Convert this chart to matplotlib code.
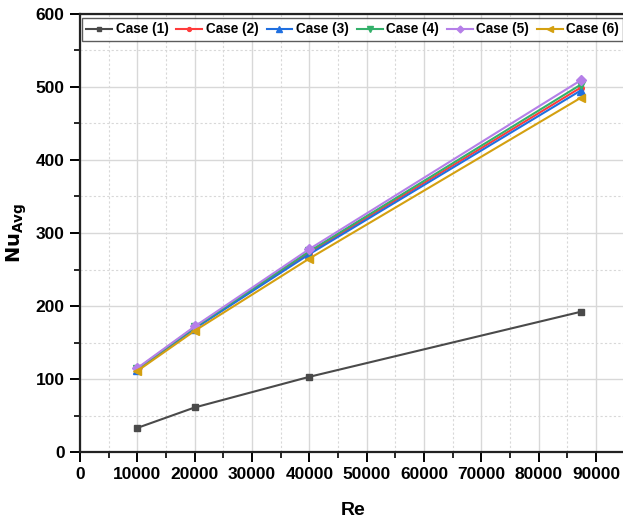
"""Nu_avg versus Re for six cases, drawn in an Origin-like style."""

import matplotlib.pyplot as plt
from matplotlib.ticker import MultipleLocator

plt.rcParams["font.family"] = ["Liberation Sans", "DejaVu Sans"]
plt.rcParams["font.weight"] = "bold"

re_values = [10000, 20000, 40000, 87300]
case_labels = ["Case (1)", "Case (2)", "Case (3)", "Case (4)", "Case (5)", "Case (6)"]
case_1 = [33, 61, 103, 192]
case_2 = [113, 170, 273, 499]
case_3 = [113, 169, 271, 495]
case_4 = [114, 171, 275, 503]
case_5 = [115, 172, 278, 509]
case_6 = [111, 166, 265, 485]
x_ticks = [0, 10000, 20000, 30000, 40000, 50000, 60000, 70000, 80000, 90000]
y_ticks = [0, 100, 200, 300, 400, 500, 600]

series = [case_1, case_2, case_3, case_4, case_5, case_6]
colors = ["#4a4a4a", "#ff3b3b", "#1f6fe0", "#33b06a", "#b57fe8", "#d4a010"]
markers = ["s", "o", "^", "v", "D", "<"]
sizes = [5, 4, 6, 6, 5, 6]

W, H = 623, 519
fig = plt.figure(figsize=(W / 100, H / 100), dpi=100)
# axes run past the right edge of the image like the original export
left, right, top, bottom = 80, 626, 14, 452
ax = fig.add_axes([left / W, 1 - bottom / H, (right - left) / W, (bottom - top) / H])

for vals, lab, col, mk, ms in zip(series, case_labels, colors, markers, sizes):
    ax.plot(re_values, vals, color=col, marker=mk, markersize=ms, linewidth=1.5, label=lab)

x_per_px = 90000 / (596 - 80)
ax.set_xlim(0, (right - left) * x_per_px)
ax.set_ylim(0, 600)
ax.set_xticks(x_ticks)
ax.set_yticks(y_ticks)
ax.xaxis.set_minor_locator(MultipleLocator(5000))
ax.yaxis.set_minor_locator(MultipleLocator(50))

ax.grid(which="major", color="#d8d8d8", linewidth=1.0)
ax.grid(which="minor", color="#d8d8d8", linewidth=0.8, linestyle=(0, (2, 2)))
ax.set_axisbelow(True)

ax.spines["right"].set_visible(False)
for side in ["left", "bottom", "top"]:
    ax.spines[side].set_linewidth(1.6)
    ax.spines[side].set_color("#222222")
ax.tick_params(which="major", direction="out", length=7, width=1.4, labelsize=12.5, pad=4)
ax.tick_params(which="minor", direction="out", length=4, width=1.2)
for lbl in ax.get_xticklabels() + ax.get_yticklabels():
    lbl.set_fontweight("bold")

ax.set_xlabel("Re", fontsize=14, fontweight="bold", labelpad=14)
ax.set_ylabel(r"$\mathbf{Nu_{Avg}}$", fontsize=14, labelpad=5)

leg = ax.legend(loc="upper left", ncol=6, frameon=True, fancybox=False,
                bbox_to_anchor=(0.004, 0.99), borderaxespad=0.0,
                prop={"weight": "bold", "size": 9.8}, handlelength=1.9,
                columnspacing=0.6, handletextpad=0.25, borderpad=0.3,
                markerscale=0.7)
leg.get_frame().set_edgecolor("#333333")
leg.get_frame().set_linewidth(1.0)

fig.savefig("out.png", dpi=100)
